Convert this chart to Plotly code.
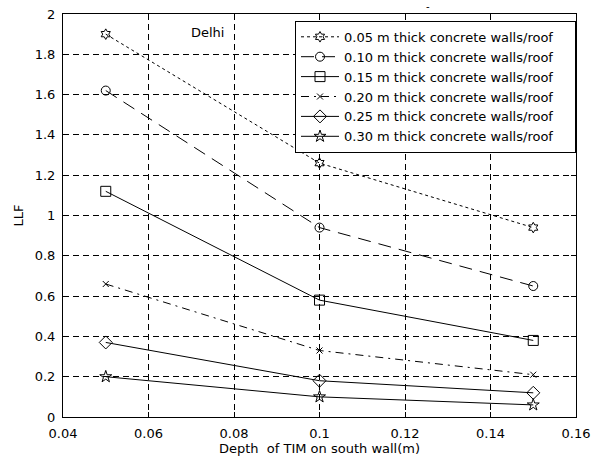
import plotly.graph_objects as go

depth = [0.05, 0.10, 0.15]
series_names = [
    "0.05 m thick concrete walls/roof",
    "0.10 m thick concrete walls/roof",
    "0.15 m thick concrete walls/roof",
    "0.20 m thick concrete walls/roof",
    "0.25 m thick concrete walls/roof",
    "0.30 m thick concrete walls/roof",
]
llf_005 = [1.90, 1.26, 0.94]
llf_010 = [1.62, 0.94, 0.65]
llf_015 = [1.12, 0.58, 0.38]
llf_020 = [0.66, 0.33, 0.21]
llf_025 = [0.37, 0.18, 0.12]
llf_030 = [0.20, 0.10, 0.06]
x_ticks = [0.04, 0.06, 0.08, 0.1, 0.12, 0.14, 0.16]
x_tick_labels = ["0.04", "0.06", "0.08", "0.1", "0.12", "0.14", "0.16"]
y_ticks = [0, 0.2, 0.4, 0.6, 0.8, 1, 1.2, 1.4, 1.6, 1.8, 2]
y_tick_labels = ["0", "0.2", "0.4", "0.6", "0.8", "1", "1.2", "1.4", "1.6", "1.8", "2"]

all_values = [llf_005, llf_010, llf_015, llf_020, llf_025, llf_030]
dashes = ["3px,3px", "13px,8px", "solid", "8px,5px,2px,5px", "solid", "solid"]
symbols = ["hexagram-open", "circle-open", "square-open", "x-thin-open", "diamond-open", "star-open"]
sizes = [8, 9, 10, 6, 10, 9]

pad = "\u00a0" * 4

fig = go.Figure()
for name, vals, d, s, sz in zip(series_names, all_values, dashes, symbols, sizes):
    fig.add_trace(go.Scatter(
        x=depth, y=vals, name=name + pad, mode="lines+markers",
        line=dict(color="black", width=1, dash=d),
        marker=dict(symbol=s, size=sz, color="black", line=dict(color="black", width=1)),
    ))

font = dict(family="DejaVu Sans, sans-serif", size=13, color="black")
axis_common = dict(
    showline=True, linecolor="black", linewidth=1, mirror="ticks",
    ticks="inside", ticklen=5, tickcolor="black",
    showgrid=True, gridcolor="black", griddash="6px,4px", gridwidth=1,
    zeroline=False, tickfont=font, automargin=False,
)
fig.update_xaxes(range=[0.04, 0.16], tickvals=x_ticks, ticktext=x_tick_labels,
                 ticklabelstandoff=4,
                 title=dict(text="Depth  of TIM on south wall(m)", font=font, standoff=1),
                 **axis_common)
fig.update_yaxes(range=[0, 2], tickvals=y_ticks, ticktext=y_tick_labels,
                 ticklabelstandoff=4,
                 title=dict(text="LLF", font=font, standoff=8),
                 **axis_common)

fig.add_annotation(x=0.0737, y=1.906, xref="x", yref="y", text="Delhi",
                   showarrow=False, font=font)
fig.add_annotation(x=0.719, y=1.0, xref="paper", yref="paper", yanchor="bottom",
                   text="-", showarrow=False, font=dict(family="DejaVu Sans", size=10, color="black"))

fig.update_layout(
    width=591, height=462,
    margin=dict(l=63, r=15, t=14, b=45),
    paper_bgcolor="white", plot_bgcolor="white",
    font=font,
    showlegend=True,
    legend=dict(x=1, y=0.983, xanchor="right", yanchor="top",
                bgcolor="white", bordercolor="black", borderwidth=1,
                font=dict(family="DejaVu Sans, sans-serif", size=13, color="black"),
                tracegroupgap=0, itemwidth=38),
)

fig.write_html("out.html")
